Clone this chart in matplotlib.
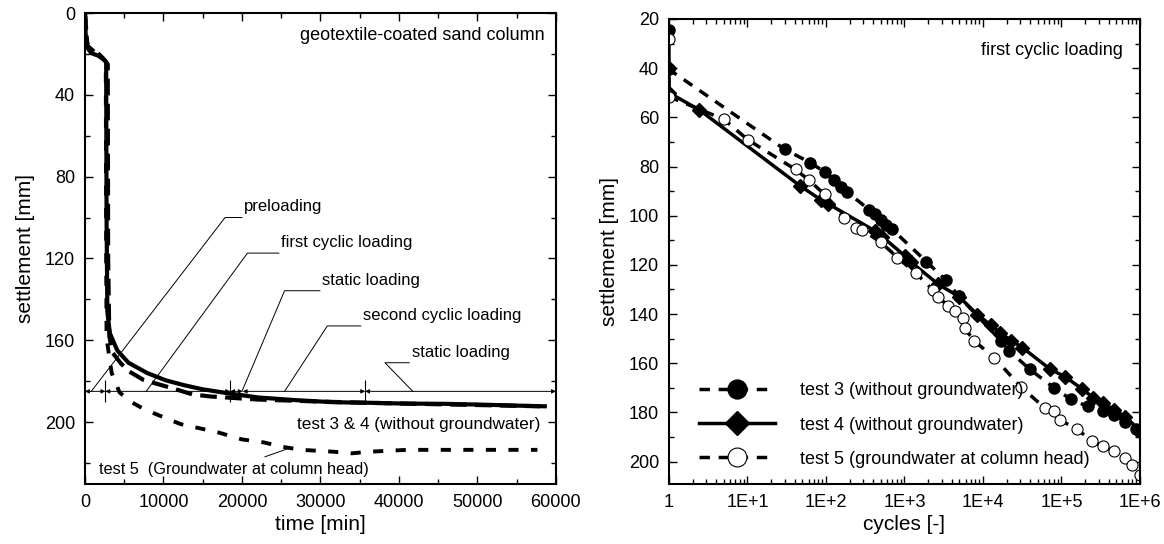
import math
import matplotlib
matplotlib.use("Agg")
import matplotlib.pyplot as plt
from matplotlib.ticker import MultipleLocator, FuncFormatter, LogLocator, NullFormatter

plt.rcParams['font.family'] = ['Liberation Sans', 'DejaVu Sans']

# ---- left chart: settlement vs time ----
t4_time = [0, 100, 300, 800, 1750, 2450, 2700, 2750, 2850, 3170, 4120, 5540, 7910,
           10280, 12650, 15000, 18330, 22100, 26850, 31600, 36300, 41060, 45800,
           50530, 55260, 58580]
t4_settle = [0, 12, 17, 19.6, 21, 23, 24, 100, 146, 156.6, 165, 171, 176, 179.6,
             182, 184, 186, 188, 189.3, 190.3, 190.6, 191, 191.1, 191.5, 192, 192.3]

t3_time = [0, 300, 1500, 2500, 2900, 2950, 3100, 3500, 4500, 5500, 7500, 9800,
           12000, 13700, 16000, 18000, 22000, 26000, 30000, 36000, 45000, 58000]
t3_settle = [0, 16, 20, 23, 25, 120, 158, 166, 171, 175, 179.5, 182, 184.5, 186.5,
             187.5, 188, 189, 189.5, 190, 190.6, 191.3, 192.3]

t5_time = [0, 300, 1500, 2300, 2650, 2700, 2750, 3400, 4400, 5800, 7670, 12170,
           16900, 20000, 22830, 24960, 27560, 31590, 33960, 36330, 41060, 45800,
           50530, 57640]
t5_settle = [0, 15, 19, 22, 24, 120, 159, 176, 185.5, 190, 194, 201, 205, 208.5,
             210, 212, 213.6, 214.5, 215.3, 214.5, 213.6, 213.6, 213.6, 213.6]

phase_edges = [0, 2600, 18500, 20100, 35700, 60000]
phase_level = 185
phase_marks = [2600, 18500, 35700]

# label, tip x, elbow x, elbow y, stub end x
phase_notes = [
    ("preloading", 800, 17850, 100, 20000),
    ("first cyclic loading", 7800, 20700, 117.4, 24700),
    ("static loading", 20000, 25430, 135.8, 29930),
    ("second cyclic loading", 25430, 30880, 153, 35140),
    ("static loading", 41770, 38220, 171, 41300),
]

# ---- right chart: settlement vs cycles ----
c3_n = [1, 1, 29.8, 63, 96, 126, 157, 185, 357, 422, 497, 585, 690, 1910, 3370,
        4950, 16870, 21700, 39650, 80700, 132000, 216000, 335000, 466000, 647000,
        898000, 1000000]
c3_s = [24.5, 40.5, 73, 78.4, 82.2, 85.4, 88.2, 90.3, 97.6, 99.5, 101.6, 103.7,
        105.4, 118.7, 126.2, 132.8, 150.8, 155, 162.5, 170, 174.7, 177.5, 179.6,
        181, 183.8, 186.6, 188]

c4_n = [1, 1, 2.45, 47, 86, 107, 422, 525, 1010, 1200, 2700, 4950, 8500, 12600,
        16500, 23000, 31800, 72400, 112000, 184000, 255000, 335000, 466000,
        647000, 1000000]
c4_s = [40, 50, 57, 87.9, 93.5, 95.2, 106.2, 108.6, 116.3, 118.7, 127.9, 132.9,
        140.2, 144.5, 147.5, 150.8, 153.6, 162.5, 165.5, 170.5, 174, 176, 178.9,
        181.7, 187.3]

c5_n = [1, 1, 5, 10.2, 41, 60, 96, 172, 244, 287, 497, 813, 1400, 2300, 2710,
        3560, 4430, 5520, 5830, 7680, 14000, 30200, 61500, 80700, 95200, 156000,
        242000, 335000, 466000, 647000, 804000, 1000000]
c5_s = [28.2, 51.6, 60.8, 69.2, 81.2, 85.4, 91.3, 101.1, 105.1, 105.8, 110.7, 117,
        123.4, 130.1, 132.9, 136.7, 138.8, 141.4, 145.6, 150.8, 157.8, 169.5,
        178.2, 179.6, 183.1, 186.6, 191.6, 193.7, 195.8, 198.6, 201.4, 205.6]

fig = plt.figure(figsize=(11.64, 5.44), dpi=100)
ax1 = fig.add_axes([0.0730, 0.1103, 0.4046, 0.8658])
ax2 = fig.add_axes([0.5747, 0.1103, 0.4046, 0.8548])

# left
ax1.plot(t4_time, t4_settle, color='black', lw=3.0, solid_joinstyle='round')
ax1.plot(t3_time, t3_settle, color='black', lw=3.0, linestyle=(0, (4, 2)))
ax1.plot(t5_time, t5_settle, color='black', lw=2.8, linestyle=(0, (2.6, 3.2)))

for a, b in zip(phase_edges[:-1], phase_edges[1:]):
    ax1.annotate('', xy=(b, phase_level), xytext=(a, phase_level),
                 arrowprops=dict(arrowstyle='<|-|>', lw=0.7, color='black',
                                 mutation_scale=6, shrinkA=0, shrinkB=0))
ax1.plot(phase_marks, [phase_level] * len(phase_marks), linestyle='none',
         marker='|', ms=16, mew=0.8, color='black')

for label, tip, ex, ey, end in phase_notes:
    ax1.plot([tip, ex, end], [phase_level, ey, ey], color='black', lw=0.7)
    ax1.text(end + 300, ey - 1.5, label, fontsize=12, ha='left', va='bottom')

ax1.text(0.976, 0.952, "geotextile-coated sand column", transform=ax1.transAxes,
         fontsize=13, ha='right', va='center')
ax1.text(0.968, 201, "test 3 & 4 (without groundwater)",
         transform=ax1.get_yaxis_transform(), fontsize=12.3, ha='right', va='center')
ax1.text(1750, 223, "test 5  (Groundwater at column head)", fontsize=11.7,
         ha='left', va='center')
ax1.plot([22930, 26100], [217, 212.7], color='black', lw=0.7)

ax1.set_xlim(0, 60000)
ax1.set_ylim(230.3, 0)
ax1.xaxis.set_major_locator(MultipleLocator(10000))
ax1.xaxis.set_minor_locator(MultipleLocator(5000))
ax1.yaxis.set_major_locator(MultipleLocator(40))
ax1.yaxis.set_minor_locator(MultipleLocator(20))
ax1.set_xlabel("time [min]", fontsize=15, labelpad=3)
ax1.set_ylabel("settlement [mm]", fontsize=15, labelpad=7)

# right
ax2.plot(c3_n, c3_s, color='black', lw=2.5, linestyle=(0, (3, 2.5)), marker='o',
         ms=8, mfc='black', mec='black', label="test 3 (without groundwater)")
ax2.plot(c4_n, c4_s, color='black', lw=2.5, marker='D', ms=7, mfc='black',
         mec='black', label="test 4 (without groundwater)")
ax2.plot(c5_n, c5_s, color='black', lw=2.5, linestyle=(0, (3, 2.5)), marker='o',
         ms=8, mfc='white', mec='black', mew=0.8,
         label="test 5 (groundwater at column head)")

ax2.set_xscale('log')
ax2.set_xlim(1, 1e6)
ax2.set_ylim(209.1, 20)
ax2.xaxis.set_major_locator(LogLocator(base=10, numticks=10))
ax2.xaxis.set_minor_locator(LogLocator(base=10, subs=range(2, 10), numticks=10))
ax2.xaxis.set_minor_formatter(NullFormatter())
ax2.xaxis.set_major_formatter(FuncFormatter(
    lambda v, p: "1" if v <= 1.0001 else "1E+%d" % round(math.log10(v))))
ax2.yaxis.set_major_locator(MultipleLocator(20))
ax2.yaxis.set_minor_locator(MultipleLocator(10))
ax2.set_xlabel("cycles [-]", fontsize=15, labelpad=3)
ax2.set_ylabel("settlement [mm]", fontsize=15, labelpad=7)
ax2.text(0.964, 0.933, "first cyclic loading", transform=ax2.transAxes,
         fontsize=13, ha='right', va='center')
ax2.legend(loc='lower left', bbox_to_anchor=(0.03, 0.0), frameon=False,
           fontsize=13, handlelength=4.2, markerscale=1.7, labelspacing=0.95,
           handletextpad=1.4)

for ax in (ax1, ax2):
    ax.tick_params(which='both', direction='in', top=True, right=True,
                   labelsize=13, width=1.0)
    ax.tick_params(which='major', length=6, pad=7)
    ax.tick_params(which='minor', length=3.5)
    for s in ax.spines.values():
        s.set_linewidth(1.5)

fig.savefig("out.png", dpi=100)
